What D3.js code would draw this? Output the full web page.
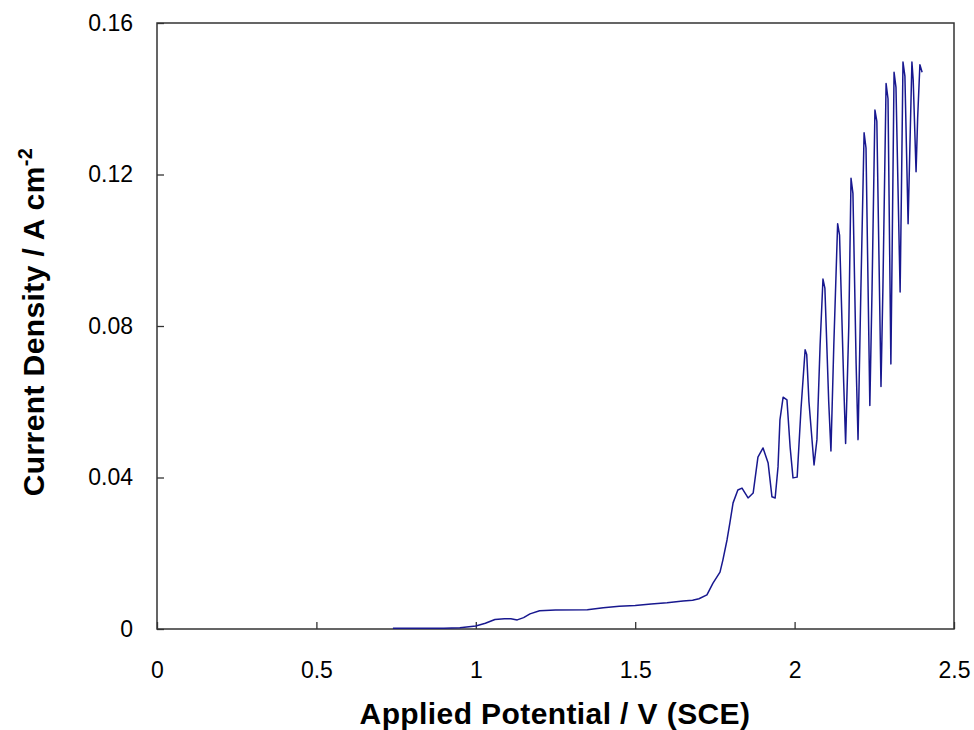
<!DOCTYPE html>
<html>
<head>
<meta charset="utf-8">
<script src="https://cdn.jsdelivr.net/npm/d3@7"></script>
<style>
  body { margin: 0; background: #fff; }
  text { font-family: "Liberation Sans", Arial, sans-serif; fill: #000; }
</style>
</head>
<body>
<div id="chart"></div>
<script>
// potential (V vs SCE) and current density (A cm-2)
const potential = [
  0.74, 0.80, 0.90, 0.95, 1.00, 1.03, 1.06, 1.09, 1.11, 1.13, 1.15, 1.17, 1.20, 1.25,
  1.35, 1.40, 1.45, 1.50, 1.55, 1.60, 1.65, 1.68, 1.70, 1.725, 1.744, 1.766, 1.775,
  1.788, 1.797, 1.807, 1.822, 1.835, 1.854, 1.870, 1.885, 1.901, 1.917, 1.929, 1.939,
  1.948, 1.954, 1.964, 1.976, 1.986, 1.995, 2.008, 2.020, 2.033, 2.038, 2.045, 2.061,
  2.070, 2.080, 2.089, 2.095, 2.107, 2.114, 2.123, 2.135, 2.141, 2.154, 2.160, 2.170,
  2.177, 2.183, 2.193, 2.199, 2.208, 2.218, 2.224, 2.236, 2.243, 2.252, 2.258, 2.271,
  2.277, 2.287, 2.293, 2.302, 2.306, 2.312, 2.318, 2.331, 2.335, 2.340, 2.346, 2.356,
  2.361, 2.368, 2.372, 2.381, 2.386, 2.393, 2.400
];
const current = [
  0.0002, 0.0002, 0.0002, 0.0003, 0.0008, 0.0015, 0.0025, 0.0027, 0.0027, 0.0024, 0.0030, 0.0040, 0.0048, 0.0050,
  0.0051, 0.0056, 0.0060, 0.0062, 0.0066, 0.0069, 0.0074, 0.0076, 0.0080, 0.0090, 0.0121, 0.0150, 0.0182,
  0.0235, 0.0280, 0.0333, 0.0367, 0.0372, 0.0346, 0.0359, 0.0454, 0.0478, 0.0438, 0.0349, 0.0346,
  0.0428, 0.0552, 0.0612, 0.0605, 0.0480, 0.0399, 0.0401, 0.0580, 0.0737, 0.0725, 0.0600, 0.0433,
  0.0500, 0.0750, 0.0924, 0.0900, 0.0600, 0.0470, 0.0750, 0.1070, 0.1040, 0.0650, 0.0490, 0.0800,
  0.1190, 0.1150, 0.0700, 0.0500, 0.0900, 0.1310, 0.1270, 0.0590, 0.0900, 0.1370, 0.1340, 0.0640,
  0.0900, 0.1440, 0.1400, 0.0700, 0.1000, 0.1470, 0.1430, 0.0890, 0.1150, 0.1497, 0.1460, 0.1070,
  0.1250, 0.1497, 0.1450, 0.1207, 0.1350, 0.1490, 0.1470
];
const xTicks = [0, 0.5, 1, 1.5, 2, 2.5];
const yTicks = [0, 0.04, 0.08, 0.12, 0.16];

const width = 974;
const height = 730;
const margin = {top: 23, right: 20, bottom: 101, left: 157};
const w = width - margin.left - margin.right;
const h = height - margin.top - margin.bottom;

const svg = d3.select("#chart")
              .append("svg")
              .attr("width", width)
              .attr("height", height);

const g = svg.append("g")
             .attr("transform", `translate(${margin.left},${margin.top})`);

const x = d3.scaleLinear().domain([0, 2.5]).range([0, w]);
const y = d3.scaleLinear().domain([0, 0.16]).range([h, 0]);

const xAxis = g.append("g")
  .attr("transform", `translate(0,${h})`)
  .call(d3.axisBottom(x).tickValues(xTicks).tickFormat(d => String(d))
          .tickSizeInner(-7).tickSizeOuter(0).tickPadding(33));

const yAxis = g.append("g")
  .call(d3.axisLeft(y).tickValues(yTicks).tickFormat(d => String(d))
          .tickSizeInner(-7).tickSizeOuter(0).tickPadding(24));

[xAxis, yAxis].forEach(a => {
  a.select(".domain").remove();
  a.selectAll("line").attr("stroke", "#333").attr("stroke-width", 1.3);
  a.selectAll("text").style("font-size", "23px").attr("fill", "#000");
});

// frame
g.append("rect")
 .attr("width", w)
 .attr("height", h)
 .attr("fill", "none")
 .attr("stroke", "#333")
 .attr("stroke-width", 1.5);

const pts = potential.map((p, i) => [p, current[i]]);
g.append("path")
 .datum(pts)
 .attr("fill", "none")
 .attr("stroke", "#18188f")
 .attr("stroke-width", 1.5)
 .attr("stroke-linejoin", "round")
 .attr("d", d3.line().x(d => x(d[0])).y(d => y(d[1])));

svg.append("text")
   .attr("x", 555)
   .attr("y", 724)
   .attr("text-anchor", "middle")
   .style("font-size", "30px")
   .style("font-weight", "bold")
   .style("letter-spacing", "0.4px")
   .text("Applied Potential / V (SCE)");

const yt = svg.append("text")
   .attr("transform", "translate(44,322) rotate(-90)")
   .attr("text-anchor", "middle")
   .style("font-size", "30px")
   .style("font-weight", "bold")
   .style("letter-spacing", "0.4px");
yt.append("tspan").text("Current Density / A cm");
yt.append("tspan").attr("dy", "-0.6em").style("font-size", "20px").text("-2");
</script>
</body>
</html>
